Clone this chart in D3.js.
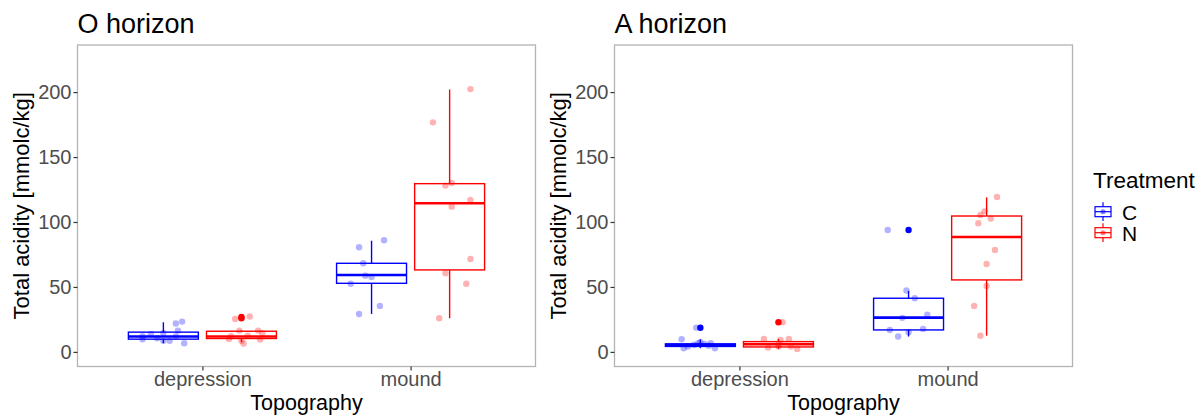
<!DOCTYPE html>
<html>
<head>
<meta charset="utf-8">
<script src="https://cdn.jsdelivr.net/npm/d3@7"></script>
<style>
  html, body { margin: 0; padding: 0; background: #fff; }
  svg { display: block; font-family: "Liberation Sans", Arial, sans-serif; }
</style>
</head>
<body>
<svg id="chart" width="1202" height="417"></svg>
<script>
// ---------------- DATA ----------------
const panelTitles = ["O horizon", "A horizon"];
const topography = ["depression", "mound"];
const treatments = ["C", "N"];
const yTicks = [0, 50, 100, 150, 200];

// box stats per topography: [lower whisker, Q1, median, Q3, upper whisker]
const boxO_C = [[6.7, 9.8, 11.8, 15.2, 22.8], [29.2, 52.8, 59.2, 68.2, 85.6]];
const boxO_N = [[7.5, 10.3, 11.8, 15.9, 16.4], [25.9, 63.1, 114.4, 129.5, 202.0]];
const boxA_C = [[2.8, 4.2, 5.2, 6.2, 9.7], [11.8, 16.9, 26.4, 41.3, 46.9]];
const boxA_N = [[2.3, 3.8, 5.9, 7.9, 10.0], [12.5, 55.4, 88.5, 104.6, 119.0]];

// boxplot outliers per topography
const outO_C = [[], []];
const outO_N = [[25.8, 26.8], []];
const outA_C = [[18.6], [93.8]];
const outA_N = [[22.8], []];

// jittered observations per topography
const ptsO_C = [[23.3, 21.8, 16.4, 13.8, 12.0, 9.7, 8.5, 8.5, 11.8, 6.7, 14.5, 10.5],
                [80.5, 85.9, 68.2, 58.7, 57.7, 52.5, 35.4, 29.2]];
const ptsO_N = [[25.4, 26.5, 27.2, 16.4, 16.4, 14.3, 10.0, 8.5, 6.5, 9.5, 12.0, 12.5],
                [202.3, 176.7, 128.0, 130.0, 117.0, 111.8, 71.5, 60.5, 52.5, 25.9]];
const ptsA_C = [[9.7, 18.7, 2.8, 4.1, 5.5, 6.7, 6.2, 6.7, 2.8, 7.5, 4.8],
                [93.8, 47.2, 41.3, 28.7, 26.2, 16.9, 17.7, 11.8, 15.1]];
const ptsA_N = [[10.0, 9.2, 10.0, 5.9, 3.3, 4.1, 4.1, 2.3, 22.8],
                [119.2, 108.2, 105.4, 102.6, 99.0, 78.5, 67.7, 50.8, 35.4, 12.5]];

const jitO_C = [[0.09, 0.06, 0.07, -0.06, -0.10, -0.10, 0.00, 0.03, 0.06, 0.10, 0.00, -0.03],
                [-0.06, 0.06, -0.04, -0.03, 0.00, -0.10, 0.04, -0.06]];
const jitO_N = [[-0.03, 0.00, 0.04, -0.01, 0.08, 0.10, -0.06, 0.00, 0.01, 0.09, -0.05, 0.03],
                [0.10, -0.08, -0.02, 0.01, 0.10, 0.01, 0.10, -0.02, 0.08, -0.05]];
const jitA_C = [[-0.09, -0.02, -0.08, -0.06, -0.03, -0.01, 0.02, 0.05, 0.07, 0.00, 0.04],
                [-0.10, -0.01, 0.03, 0.09, -0.03, -0.09, 0.07, -0.05, 0.00]];
const jitA_N = [[-0.07, 0.01, 0.05, 0.00, -0.05, 0.00, 0.06, 0.09, 0.02],
                [0.05, -0.01, -0.03, 0.02, -0.04, 0.04, 0.00, 0.00, -0.06, -0.03]];

// ---------------- LAYOUT ----------------
const panels = [
  { title: panelTitles[0], left: 77.5, right: 535.5,
    box: { C: boxO_C, N: boxO_N }, out: { C: outO_C, N: outO_N },
    pts: { C: ptsO_C, N: ptsO_N }, jit: { C: jitO_C, N: jitO_N } },
  { title: panelTitles[1], left: 614.5, right: 1072.5,
    box: { C: boxA_C, N: boxA_N }, out: { C: outA_C, N: outA_N },
    pts: { C: ptsA_C, N: ptsA_N }, jit: { C: jitA_C, N: jitA_N } }
];
const plotTop = 45, plotBottom = 366.5;
const color = d3.scaleOrdinal().domain(treatments).range(["#0000FF", "#FF0000"]);
const dodge = d3.scaleOrdinal().domain(treatments).range([-0.1875, 0.1875]);
const boxW = 0.336;

const svg = d3.select("#chart");
const y = d3.scaleLinear().domain([-11.25, 236.25]).range([plotBottom, plotTop]);

panels.forEach(p => {
  const x = d3.scaleLinear().domain([0.4, 2.6]).range([p.left, p.right]);
  const g = svg.append("g");

  // title
  g.append("text").attr("x", p.left).attr("y", 33)
    .attr("font-size", 27).attr("fill", "#000").text(p.title);

  // panel border
  g.append("rect").attr("x", p.left).attr("y", plotTop)
    .attr("width", p.right - p.left).attr("height", plotBottom - plotTop)
    .attr("fill", "#fff").attr("stroke", "#b3b3b3").attr("stroke-width", 1.3);

  // axes
  const ya = g.append("g").attr("transform", `translate(${p.left},0)`)
    .call(d3.axisLeft(y).tickValues(yTicks).tickSize(4).tickPadding(2));
  const xa = g.append("g").attr("transform", `translate(0,${plotBottom})`)
    .call(d3.axisBottom(x).tickValues([1, 2]).tickFormat(i => topography[i - 1]).tickSize(4).tickPadding(1.5));
  [ya, xa].forEach(a => {
    a.select(".domain").remove();
    a.selectAll(".tick line").attr("stroke", "#333").attr("stroke-width", 1.2);
    a.selectAll(".tick text").attr("fill", "#4d4d4d").attr("font-size", 20)
      .attr("font-family", "Liberation Sans, Arial, sans-serif");
  });

  // axis titles
  g.append("text").attr("x", (p.left + p.right) / 2).attr("y", 410)
    .attr("text-anchor", "middle").attr("font-size", 21.5).attr("fill", "#000").text("Topography");
  g.append("text")
    .attr("transform", `translate(${p.left - 48.5},${(plotTop + plotBottom) / 2}) rotate(-90)`)
    .attr("text-anchor", "middle").attr("font-size", 22).attr("fill", "#000")
    .text("Total acidity [mmolc/kg]");

  // boxes
  treatments.forEach(t => {
    topography.forEach((topo, i) => {
      const s = p.box[t][i];
      const cx = i + 1 + dodge(t);
      const x0 = x(cx - boxW / 2), x1 = x(cx + boxW / 2), xc = x(cx);
      const bg = g.append("g").attr("stroke", color(t)).attr("fill", "none").attr("stroke-width", 1.4);
      bg.append("line").attr("x1", xc).attr("x2", xc).attr("y1", y(s[3])).attr("y2", y(s[4]));
      bg.append("line").attr("x1", xc).attr("x2", xc).attr("y1", y(s[1])).attr("y2", y(s[0]));
      bg.append("rect").attr("x", x0).attr("y", y(s[3]))
        .attr("width", x1 - x0).attr("height", y(s[1]) - y(s[3])).attr("fill", "#fff");
      bg.append("line").attr("x1", x0).attr("x2", x1).attr("y1", y(s[2])).attr("y2", y(s[2]))
        .attr("stroke-width", 2.6);
      g.selectAll(null).data(p.out[t][i]).enter().append("circle")
        .attr("cx", xc).attr("cy", d => y(d)).attr("r", 3.2).attr("fill", color(t));
    });
  });

  // jittered points
  treatments.forEach(t => {
    topography.forEach((topo, i) => {
      const vals = p.pts[t][i], jit = p.jit[t][i];
      g.selectAll(null).data(vals.map((v, k) => ({ v, j: jit[k] }))).enter().append("circle")
        .attr("cx", d => x(i + 1 + dodge(t) + d.j)).attr("cy", d => y(d.v))
        .attr("r", 3.2).attr("fill", color(t)).attr("fill-opacity", 0.3);
    });
  });
});

// legend
const lg = svg.append("g");
lg.append("text").attr("x", 1093).attr("y", 188).attr("font-size", 22.5).attr("fill", "#000").text("Treatment");
treatments.forEach((t, k) => {
  const oy = 211.7 + k * 21;
  const kg = lg.append("g").attr("stroke", color(t)).attr("fill", "none").attr("stroke-width", 1.2);
  kg.append("line").attr("x1", 1103).attr("x2", 1103).attr("y1", oy - 9.4).attr("y2", oy + 9.4);
  kg.append("rect").attr("x", 1095).attr("y", oy - 5).attr("width", 16).attr("height", 10).attr("fill", "#fff");
  kg.append("line").attr("x1", 1095).attr("x2", 1111).attr("y1", oy).attr("y2", oy);
  lg.append("circle").attr("cx", 1103).attr("cy", oy).attr("r", 2.5).attr("fill", color(t)).attr("fill-opacity", 0.5);
  lg.append("text").attr("x", 1122).attr("y", oy + 8.3).attr("font-size", 21).attr("fill", "#000").text(t);
});
</script>
</body>
</html>
